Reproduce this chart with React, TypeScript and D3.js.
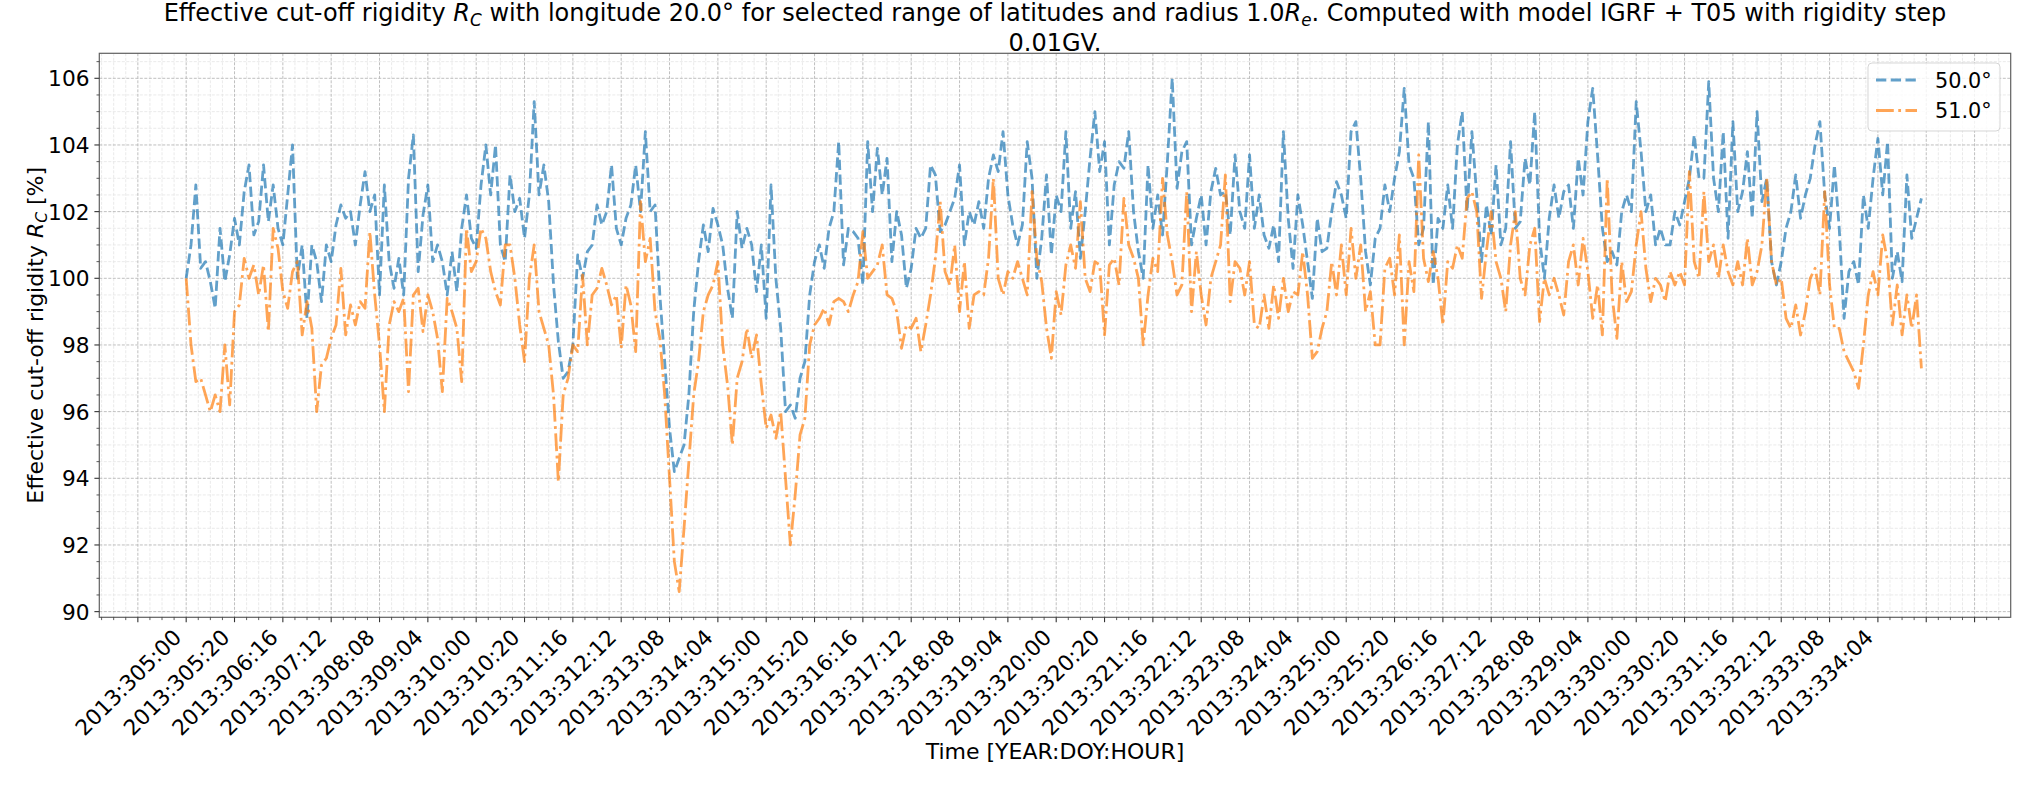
import React from 'react';
import * as d3 from 'd3';

// ---------------- data (values every HOUR_STEP hours from 2013:305:00) ----------------
const HOUR_STEP = 2;

const lat50: number[] = [
  100.0, 101.0, 102.8, 100.3, 100.5, 99.9, 99.1, 101.5, 99.9, 100.7,
  101.8, 101.0, 102.6, 103.4, 101.3, 101.7, 103.4, 101.7, 102.8, 101.5,
  101.0, 102.5, 104.0, 100.0, 101.0, 98.8, 101.0, 100.5, 99.3, 101.0,
  100.5, 101.6, 102.2, 101.8, 102.0, 101.0, 102.2, 103.2, 102.0, 102.5,
  99.5, 102.8, 100.5, 99.7, 100.6, 99.5, 103.0, 104.3, 100.2, 101.9,
  102.8, 100.5, 101.0, 100.5, 99.5, 100.8, 99.6, 101.5, 102.5, 101.2,
  100.9, 102.8, 104.0, 102.5, 104.0, 101.0, 100.5, 103.1, 102.0, 102.4,
  101.2, 102.5, 105.3, 102.5, 103.4, 102.3, 99.8, 98.1, 97.0, 97.2,
  98.0, 100.7, 100.0, 100.8, 101.0, 102.2, 101.6, 102.0, 103.4, 101.5,
  101.0, 101.8, 102.2, 103.4, 102.0, 104.4, 102.0, 102.2, 99.5, 97.5,
  95.5, 94.2, 94.6, 95.0, 96.5, 99.0, 100.5, 101.6, 100.8, 102.1,
  101.6, 101.0, 99.7, 98.8, 102.0, 100.9, 101.5, 101.0, 99.6, 101.0,
  98.8, 102.8, 100.0, 98.5, 96.0, 96.2, 95.8, 97.0, 97.5, 99.5,
  100.5, 101.0, 100.3, 101.5, 102.0, 104.1, 100.4, 101.5, 101.4, 101.2,
  99.8, 104.1, 102.0, 103.9, 102.5, 103.6, 100.5, 102.0, 101.3, 99.7,
  100.3, 101.5, 101.2, 101.5, 103.4, 103.1, 101.4, 101.6, 102.0, 102.4,
  103.4, 101.0, 102.0, 101.6, 102.3, 101.5, 103.0, 103.7, 103.2, 104.4,
  102.5, 101.6, 101.0, 101.6, 104.1, 103.0, 100.0, 101.2, 103.1, 100.7,
  102.5, 102.0, 104.4, 101.5, 102.6, 100.6, 102.0, 103.6, 105.0, 103.2,
  104.1, 101.0, 102.8, 103.5, 103.3, 104.4, 102.0, 100.8, 100.0, 103.4,
  101.5, 102.5, 101.3, 103.5, 106.0, 102.7, 103.8, 104.1, 101.0, 101.8,
  102.5, 101.0, 102.6, 103.3, 102.5, 102.6, 101.3, 103.7, 102.0, 101.5,
  103.7, 101.5, 102.5, 101.3, 100.9, 101.6, 100.5, 104.4, 101.8, 100.3,
  102.5, 101.6, 100.5, 99.4, 101.8, 100.8, 100.9, 102.0, 102.9, 102.5,
  101.8, 104.4, 104.7, 103.0, 100.8, 99.8, 101.2, 101.5, 102.8, 102.0,
  103.0, 103.8, 105.7, 103.4, 103.0, 101.0, 101.5, 104.7, 99.8, 101.8,
  101.5, 102.8, 101.5, 104.0, 105.0, 102.0, 104.4, 102.5, 100.5, 102.2,
  101.3, 103.4, 101.0, 101.5, 104.1, 101.5, 101.7, 103.6, 102.8, 105.0,
  101.2, 100.0, 101.8, 102.8, 101.8, 102.6, 102.8, 101.5, 103.6, 102.5,
  104.7, 105.7, 103.7, 101.5, 100.5, 100.8, 100.4, 102.0, 102.5, 102.0,
  105.3, 103.8, 102.0, 102.5, 101.0, 101.5, 101.0, 101.0, 102.0, 101.6,
  102.3, 103.0, 104.3, 103.0, 103.0, 105.9, 103.0, 102.0, 104.4, 101.2,
  104.7, 102.0, 102.6, 103.8, 101.8, 105.0, 102.3, 103.0, 100.5, 99.8,
  100.5, 101.5, 102.0, 103.1, 101.8, 102.5, 103.0, 104.0, 104.7, 102.5,
  101.5, 103.4, 101.5, 98.8, 100.2, 100.5, 99.8, 102.5, 101.5, 103.0,
  104.2, 102.5, 104.1, 100.0, 100.8, 99.9, 103.1, 101.2, 101.8, 102.4,
];

const lat51: number[] = [
  100.0, 98.0, 96.9, 97.0, 96.5, 96.0, 96.5, 96.0, 98.0, 96.2,
  99.0, 99.2, 100.6, 100.0, 100.4, 99.5, 100.4, 98.4, 101.5, 100.9,
  99.6, 99.1, 100.2, 100.5, 98.3, 99.3, 98.5, 96.0, 97.4, 97.6,
  98.2, 98.6, 100.3, 98.3, 99.2, 98.6, 99.3, 99.1, 101.4, 99.5,
  98.0, 96.0, 98.6, 99.3, 99.0, 99.4, 96.6, 99.5, 99.7, 98.4,
  99.5, 99.0, 98.2, 96.6, 99.4, 99.0, 98.5, 96.9, 101.5, 100.2,
  100.5, 101.5, 101.2, 100.2, 99.6, 99.2, 101.0, 101.0, 100.0, 98.6,
  97.5, 100.0, 101.0, 99.0, 98.5, 98.0, 96.5, 93.9, 96.5, 97.0,
  98.0, 97.8, 100.1, 98.0, 99.5, 99.7, 100.3, 99.8, 99.2, 99.5,
  97.9, 99.8, 99.2, 97.8, 102.3, 100.5, 101.2, 99.0, 98.2, 96.5,
  94.0, 91.5, 90.6, 92.5, 94.5, 96.5, 97.5, 99.0, 99.5, 99.8,
  100.5, 98.0, 96.8, 95.0, 97.0, 97.5, 98.5, 97.6, 98.3, 96.8,
  95.5, 95.9, 95.2, 96.0, 94.0, 92.0, 93.5, 95.3, 95.8, 98.0,
  98.6, 98.8, 99.1, 98.6, 99.3, 99.4, 99.3, 99.0, 99.5, 99.9,
  101.4, 100.0, 100.2, 100.4, 101.0, 99.5, 99.4, 99.0, 97.9, 98.6,
  98.5, 98.8, 97.8, 98.6, 99.5, 100.6, 102.3, 100.2, 99.8, 101.0,
  99.0, 100.5, 98.5, 99.5, 99.6, 99.5, 100.6, 103.0, 100.0, 99.5,
  100.2, 100.0, 100.5, 100.0, 99.5, 102.6, 100.6, 99.9, 98.5, 97.6,
  99.6, 98.9, 100.4, 101.0, 100.3, 102.3, 100.0, 99.6, 100.5, 100.4,
  98.3, 100.4, 100.6, 99.8, 102.4, 101.0, 100.6, 100.0, 98.0, 99.5,
  100.6, 100.2, 103.0, 101.3, 100.5, 99.5, 99.8, 102.6, 99.0, 100.8,
  99.5, 98.6, 100.0, 100.5, 101.0, 103.1, 99.3, 100.5, 100.3, 99.5,
  100.5, 98.6, 98.5, 99.5, 98.5, 99.8, 98.8, 100.0, 99.0, 99.6,
  99.5, 100.8, 99.5, 97.6, 97.8, 98.5, 99.0, 100.5, 99.5, 101.0,
  99.5, 101.5, 100.0, 101.0, 99.0, 99.6, 98.0, 98.0, 100.3, 100.6,
  99.5, 101.3, 98.0, 100.5, 99.6, 103.7, 100.6, 99.9, 100.8, 100.0,
  98.6, 100.5, 100.3, 101.0, 100.6, 102.4, 102.6, 102.0, 99.4, 100.8,
  102.0, 100.5, 100.0, 99.0, 101.0, 102.0, 100.0, 99.5, 101.0, 101.5,
  98.7, 100.0, 99.5, 100.0, 99.5, 98.9, 100.5, 101.0, 99.8, 101.2,
  100.2, 98.8, 99.8, 98.3, 103.0, 99.5, 98.2, 100.5, 99.3, 99.6,
  101.0, 102.0, 100.3, 99.3, 100.0, 99.8, 99.3, 100.2, 99.8, 100.2,
  99.8, 103.2, 100.5, 100.0, 102.6, 100.5, 101.0, 100.0, 101.0, 100.2,
  99.8, 100.5, 99.8, 101.2, 99.8, 100.2, 101.0, 103.0, 100.5, 99.8,
  100.0, 98.8, 98.5, 99.2, 98.3, 99.0, 100.0, 100.3, 99.5, 102.6,
  99.8, 98.5, 98.5, 97.8, 97.5, 97.2, 96.7, 98.0, 99.5, 100.2,
  99.5, 101.3, 100.5, 98.6, 99.8, 98.3, 99.5, 98.5, 99.5, 97.3,
];

const seriesNames = ['50.0°', '51.0°'];
const seriesColors = ['#1f77b4', '#ff7f0e'];

const xTickLabels = [
  '2013:305:00', '2013:305:20', '2013:306:16', '2013:307:12', '2013:308:08', '2013:309:04',
  '2013:310:00', '2013:310:20', '2013:311:16', '2013:312:12', '2013:313:08', '2013:314:04',
  '2013:315:00', '2013:315:20', '2013:316:16', '2013:317:12', '2013:318:08', '2013:319:04',
  '2013:320:00', '2013:320:20', '2013:321:16', '2013:322:12', '2013:323:08', '2013:324:04',
  '2013:325:00', '2013:325:20', '2013:326:16', '2013:327:12', '2013:328:08', '2013:329:04',
  '2013:330:00', '2013:330:20', '2013:331:16', '2013:332:12', '2013:333:08', '2013:334:04',
];
const xTickHours = [
  0, 20, 40, 60, 80, 100, 120, 140, 160, 180, 200, 220, 240, 260, 280, 300, 320, 340,
  360, 380, 400, 420, 440, 460, 480, 500, 520, 540, 560, 580, 600, 620, 640, 660, 680, 700,
];
const yTickValues = [90, 92, 94, 96, 98, 100, 102, 104, 106];

// ---------------- layout ----------------
const W = 2035;
const H = 785;
const PL = 99.3, PR = 2010.7, PT = 53.3, PB = 617.3;
const FONT = "'DejaVu Sans', sans-serif";
const TICK_FS = 21.7;
const LABEL_FS = 22;
const TITLE_FS = 24;
const LEGEND_FS = 20.8;

export default function App() {
  const x = d3.scaleLinear().domain([-35.95, 754.95]).range([PL, PR]);
  const y = d3.scaleLinear().domain([89.83, 106.75]).range([PB, PT]);

  const xMajor = d3.range(-20, 741, 20);
  const xMinor = d3.range(-35, 755, 5).filter((v) => v % 20 !== 0);
  const yMinor = d3.range(90, 106.75, 0.5).filter((v) => Math.abs(v % 2) > 1e-6);

  const line = d3
    .line<number>()
    .x((_, i) => x(i * HOUR_STEP))
    .y((d) => y(d));

  const series = [lat50, lat51];
  const dashes = ['10.3 4.45', '17.8 4.45 2.78 4.45'];

  const subFs = 0.7;
  const asc = 0.76 * TICK_FS;

  return (
    <svg
      width={W}
      height={H}
      style={{ position: 'absolute', left: 0, top: 0, background: '#fff' }}
      fontFamily={FONT}
    >
      <rect x={0} y={0} width={W} height={H} fill="#fff" />
      <defs>
        <clipPath id="plotclip">
          <rect x={PL} y={PT} width={PR - PL} height={PB - PT} />
        </clipPath>
      </defs>

      {/* minor grid */}
      <g stroke="#e4e4e4" strokeWidth={0.8} strokeDasharray="3 1.5">
        {xMinor.map((v) => (
          <line key={'xm' + v} x1={x(v)} x2={x(v)} y1={PT} y2={PB} />
        ))}
        {yMinor.map((v) => (
          <line key={'ym' + v} x1={PL} x2={PR} y1={y(v)} y2={y(v)} />
        ))}
      </g>
      {/* major grid */}
      <g stroke="#b8b8b8" strokeWidth={0.9} strokeDasharray="3 1.5">
        {xMajor.map((v) => (
          <line key={'xg' + v} x1={x(v)} x2={x(v)} y1={PT} y2={PB} />
        ))}
        {yTickValues.map((v) => (
          <line key={'yg' + v} x1={PL} x2={PR} y1={y(v)} y2={y(v)} />
        ))}
      </g>

      {/* data lines */}
      <g clipPath="url(#plotclip)">
        {series.map((s, k) => (
          <path
            key={k}
            d={line(s) || ''}
            fill="none"
            stroke={seriesColors[k]}
            strokeOpacity={0.7}
            strokeWidth={2.8}
            strokeDasharray={dashes[k]}
            strokeLinejoin="round"
            strokeLinecap="butt"
          />
        ))}
      </g>

      {/* spines */}
      <rect x={PL} y={PT} width={PR - PL} height={PB - PT} fill="none" stroke="#606060" strokeWidth={1.2} />

      {/* ticks */}
      <g stroke="#333">
        {xMajor.map((v) => (
          <line key={'xt' + v} x1={x(v)} x2={x(v)} y1={PB} y2={PB + 4.9} strokeWidth={1.1} />
        ))}
        {xMinor.map((v) => (
          <line key={'xmt' + v} x1={x(v)} x2={x(v)} y1={PB} y2={PB + 2.8} strokeWidth={0.8} />
        ))}
        {yTickValues.map((v) => (
          <line key={'yt' + v} x1={PL - 4.9} x2={PL} y1={y(v)} y2={y(v)} strokeWidth={1.1} />
        ))}
        {yMinor.map((v) => (
          <line key={'ymt' + v} x1={PL - 2.8} x2={PL} y1={y(v)} y2={y(v)} strokeWidth={0.8} />
        ))}
      </g>

      {/* x tick labels */}
      <g fontSize={TICK_FS} fill="#000">
        {xTickLabels.map((lab, i) => {
          const tx = x(xTickHours[i]);
          return (
            <text
              key={lab}
              textAnchor="end"
              transform={`translate(${tx - 3.5},${PB + 9.8 + asc * 0.707}) rotate(-45)`}
            >
              {lab}
            </text>
          );
        })}
      </g>

      {/* y tick labels */}
      <g fontSize={TICK_FS} fill="#000">
        {yTickValues.map((v) => (
          <text key={'yl' + v} x={PL - 9.8} y={y(v) + 0.364 * TICK_FS} textAnchor="end">
            {v}
          </text>
        ))}
      </g>

      {/* axis labels */}
      <text x={(PL + PR) / 2} y={759} textAnchor="middle" fontSize={LABEL_FS}>
        Time [YEAR:DOY:HOUR]
      </text>
      <text
        transform={`translate(43,${(PT + PB) / 2}) rotate(-90)`}
        textAnchor="middle"
        fontSize={LABEL_FS}
      >
        {'Effective cut-off rigidity\u00a0'}
        <tspan fontStyle="italic">R</tspan>
        <tspan fontStyle="italic" fontSize={LABEL_FS * subFs} dy={4.4}>C</tspan>
        <tspan dy={-4.4}>{'\u00a0[%]'}</tspan>
      </text>

      {/* title */}
      <text x={(PL + PR) / 2} y={21} textAnchor="middle" fontSize={TITLE_FS}>
        {'Effective cut-off rigidity\u00a0'}
        <tspan fontStyle="italic">R</tspan>
        <tspan fontStyle="italic" fontSize={TITLE_FS * subFs} dy={4.8}>C</tspan>
        <tspan dy={-4.8}>{'\u00a0with longitude 20.0° for selected range of latitudes and radius 1.0'}</tspan>
        <tspan fontStyle="italic">R</tspan>
        <tspan fontStyle="italic" fontSize={TITLE_FS * subFs} dy={4.8}>e</tspan>
        <tspan dy={-4.8}>. Computed with model IGRF + T05 with rigidity step</tspan>
      </text>
      <text x={(PL + PR) / 2} y={51} textAnchor="middle" fontSize={TITLE_FS}>
        0.01GV.
      </text>

      {/* legend */}
      <g>
        <rect
          x={1868}
          y={63}
          width={132}
          height={68}
          rx={4}
          fill="#fff"
          fillOpacity={0.8}
          stroke="#cccccc"
          strokeOpacity={0.8}
          strokeWidth={1}
        />
        {seriesNames.map((name, k) => (
          <g key={name}>
            <line
              x1={1876}
              x2={1917}
              y1={80 + k * 30.5}
              y2={80 + k * 30.5}
              stroke={seriesColors[k]}
              strokeOpacity={0.7}
              strokeWidth={2.8}
              strokeDasharray={dashes[k]}
            />
            <text x={1935} y={80 + k * 30.5 + 7.6} fontSize={LEGEND_FS}>
              {name}
            </text>
          </g>
        ))}
      </g>
    </svg>
  );
}
